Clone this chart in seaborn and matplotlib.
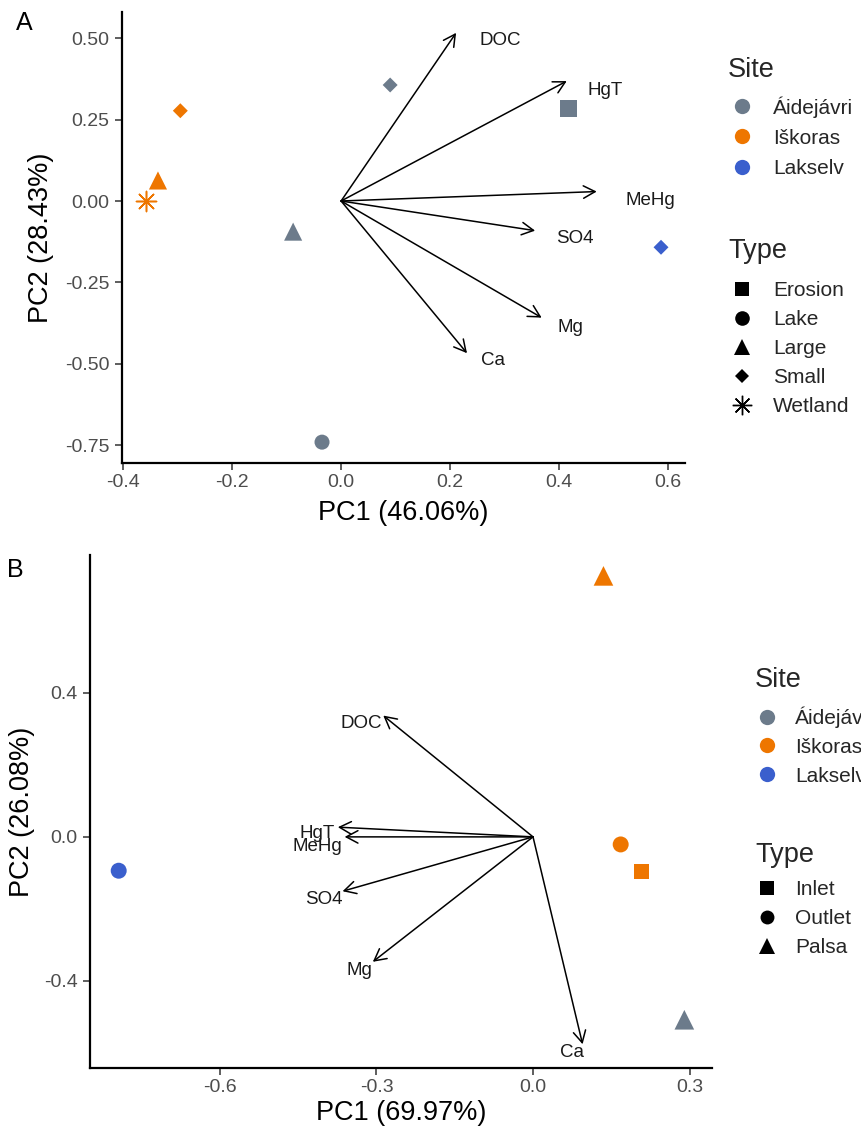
import matplotlib
matplotlib.use("Agg")
import matplotlib.pyplot as plt
from matplotlib.lines import Line2D
import pandas as pd
import seaborn as sns

sns.set_theme(style="ticks")
plt.rcParams["font.family"] = ["Liberation Sans", "DejaVu Sans"]

# ---------------- Panel A: PCA of stream samples ----------------
a_site = ["Áidejávri", "Áidejávri", "Áidejávri", "Áidejávri",
          "Iškoras", "Iškoras", "Iškoras", "Lakselv"]
a_type = ["Small", "Erosion", "Large", "Lake", "Small", "Large", "Wetland", "Small"]
a_pc1 = [0.090, 0.417, -0.088, -0.035, -0.295, -0.336, -0.358, 0.587]
a_pc2 = [0.356, 0.284, -0.094, -0.740, 0.277, 0.063, 0.000, -0.142]

variables = ["DOC", "HgT", "MeHg", "SO4", "Mg", "Ca"]
a_load1 = [0.211, 0.414, 0.469, 0.356, 0.368, 0.231]
a_load2 = [0.516, 0.368, 0.029, -0.091, -0.358, -0.467]
a_lab1 = [0.292, 0.484, 0.567, 0.429, 0.420, 0.278]
a_lab2 = [0.492, 0.340, 0.003, -0.115, -0.388, -0.490]

# ---------------- Panel B: PCA of lake/palsa samples ----------------
b_site = ["Lakselv", "Iškoras", "Iškoras", "Iškoras", "Áidejávri"]
b_type = ["Outlet", "Palsa", "Outlet", "Inlet", "Palsa"]
b_pc1 = [-0.794, 0.135, 0.168, 0.208, 0.290]
b_pc2 = [-0.094, 0.725, -0.021, -0.097, -0.508]

b_load1 = [-0.287, -0.374, -0.361, -0.365, -0.307, 0.095]
b_load2 = [0.337, 0.027, 0.000, -0.151, -0.347, -0.576]
b_lab1 = [-0.330, -0.413, -0.413, -0.400, -0.333, 0.074]
b_lab2 = [0.315, 0.008, -0.028, -0.175, -0.372, -0.600]

sites = ["Áidejávri", "Iškoras", "Lakselv"]
site_colors = {"Áidejávri": "#6C7B8B", "Iškoras": "#EE7600", "Lakselv": "#3A5FCD"}

a_types = ["Erosion", "Lake", "Large", "Small", "Wetland"]
a_markers = {"Erosion": "s", "Lake": "o", "Large": "^", "Small": "D"}
a_sizes = {"Erosion": 140, "Lake": 117, "Large": 170, "Small": 58}
asterisk = (8, 2, 0)

b_types = ["Inlet", "Outlet", "Palsa"]
b_markers = {"Inlet": "s", "Outlet": "o", "Palsa": "^"}
b_sizes = {"Inlet": 117, "Outlet": 132, "Palsa": 200}

df_a = pd.DataFrame({"Site": a_site, "Type": a_type, "PC1": a_pc1, "PC2": a_pc2})
df_b = pd.DataFrame({"Site": b_site, "Type": b_type, "PC1": b_pc1, "PC2": b_pc2})

W, H = 861, 1133
fig = plt.figure(figsize=(W / 100, H / 100), dpi=100)
ax_a = fig.add_axes([122 / W, 1 - 463 / H, 563 / W, 451 / H])
ax_b = fig.add_axes([90 / W, 1 - 1068 / H, 622 / W, 513 / H])

TICK_FS = 14
ARROW_FS = 13.5
TITLE_FS = 19.5
LEG_FS = 15
LEGT_FS = 19.5


def draw_arrows(ax, l1, l2, lx, ly):
    for name, x, y, tx, ty in zip(variables, l1, l2, lx, ly):
        ax.annotate("", xy=(x, y), xytext=(0, 0),
                    arrowprops=dict(arrowstyle="->,head_length=0.6,head_width=0.32",
                                    lw=1.1, color="black", shrinkA=0, shrinkB=0,
                                    mutation_scale=14))
        ax.text(tx, ty, name, ha="center", va="center", fontsize=ARROW_FS,
                color="#1a1a1a")


def style_axes(ax):
    sns.despine(ax=ax)
    for side in ("left", "bottom"):
        ax.spines[side].set_linewidth(1.6)
        ax.spines[side].set_color("black")
    ax.tick_params(axis="both", length=5, width=1.1, color="#333333",
                   labelsize=TICK_FS, labelcolor="#4D4D4D")
    ax.tick_params(axis="x", pad=3)
    ax.tick_params(axis="y", pad=4)


# ----- Panel A -----
filled_a = df_a[df_a["Type"] != "Wetland"]
sns.scatterplot(data=filled_a, x="PC1", y="PC2", hue="Site", style="Type",
                size="Type", sizes=a_sizes, markers=a_markers, palette=site_colors,
                linewidth=0, legend=False, ax=ax_a, zorder=3)
sns.scatterplot(data=df_a[df_a["Type"] == "Wetland"], x="PC1", y="PC2", hue="Site",
                palette=site_colors, marker=asterisk, s=210, linewidth=1.1,
                legend=False, ax=ax_a, zorder=3)
draw_arrows(ax_a, a_load1, a_load2, a_lab1, a_lab2)
ax_a.set_xlim(-0.402, 0.631)
ax_a.set_ylim(-0.804, 0.58)
ax_a.set_xticks([-0.4, -0.2, 0.0, 0.2, 0.4, 0.6])
ax_a.set_xticklabels(["-0.4", "-0.2", "0.0", "0.2", "0.4", "0.6"])
ax_a.set_yticks([-0.75, -0.50, -0.25, 0.0, 0.25, 0.50])
ax_a.set_yticklabels(["-0.75", "-0.50", "-0.25", "0.00", "0.25", "0.50"])
style_axes(ax_a)
ax_a.set_xlabel("PC1 (46.06%)", fontsize=TITLE_FS, color="black")
ax_a.set_ylabel("PC2 (28.43%)", fontsize=TITLE_FS, color="black")
ax_a.xaxis.set_label_coords(0.5, -0.111)
ax_a.xaxis.label.set_verticalalignment("center")
ax_a.yaxis.set_label_coords(-0.144, 0.5)
ax_a.yaxis.label.set_verticalalignment("center")

# ----- Panel B -----
sns.scatterplot(data=df_b, x="PC1", y="PC2", hue="Site", style="Type",
                size="Type", sizes=b_sizes, markers=b_markers, palette=site_colors,
                linewidth=0, legend=False, ax=ax_b, zorder=3)
draw_arrows(ax_b, b_load1, b_load2, b_lab1, b_lab2)
ax_b.set_xlim(-0.849, 0.343)
ax_b.set_ylim(-0.642, 0.783)
ax_b.set_xticks([-0.6, -0.3, 0.0, 0.3])
ax_b.set_xticklabels(["-0.6", "-0.3", "0.0", "0.3"])
ax_b.set_yticks([-0.4, 0.0, 0.4])
ax_b.set_yticklabels(["-0.4", "0.0", "0.4"])
style_axes(ax_b)
ax_b.set_xlabel("PC1 (69.97%)", fontsize=TITLE_FS, color="black")
ax_b.set_ylabel("PC2 (26.08%)", fontsize=TITLE_FS, color="black")
ax_b.xaxis.set_label_coords(0.5, -0.088)
ax_b.xaxis.label.set_verticalalignment("center")
ax_b.yaxis.set_label_coords(-0.109, 0.5)
ax_b.yaxis.label.set_verticalalignment("center")

# ----- Panel tags -----
fig.text(16 / W, 1 - 30.5 / H, "A", fontsize=18, color="black", va="baseline")
fig.text(7 / W, 1 - 577 / H, "B", fontsize=18, color="black", va="baseline")


# ----- Legends -----
def site_handles():
    return [Line2D([0], [0], marker="o", linestyle="", color=site_colors[s],
                   markersize=11, markeredgewidth=0) for s in sites]


type_marker_a = {"Erosion": ("s", 10), "Lake": ("o", 10.5), "Large": ("^", 12),
                 "Small": ("D", 7), "Wetland": (asterisk, 14)}
type_marker_b = {"Inlet": ("s", 9.5), "Outlet": ("o", 10), "Palsa": ("^", 12)}


def type_handles(types, spec):
    hs = []
    for t in types:
        m, ms = spec[t]
        if m == asterisk:
            hs.append(Line2D([0], [0], marker=m, linestyle="", color="black",
                             markersize=ms, markeredgewidth=1.0))
        else:
            hs.append(Line2D([0], [0], marker=m, linestyle="", color="black",
                             markersize=ms, markeredgewidth=0))
    return hs


def add_legend(handles, labels, x_marker, x_text, y_center, spacing):
    fs_px = LEG_FS * 100 / 72
    hl = 1.2
    x0 = x_marker - hl * fs_px / 2
    pad = (x_text - (x0 + hl * fs_px)) / fs_px
    leg = fig.legend(handles, labels, loc="center left",
                     bbox_to_anchor=(x0 / W, 1 - y_center / H),
                     frameon=False, fontsize=LEG_FS, handlelength=hl,
                     handletextpad=pad, borderpad=0, borderaxespad=0,
                     labelspacing=spacing)
    return leg


fig.text(728 / W, 1 - 76.7 / H, "Site", fontsize=LEGT_FS, va="baseline")
add_legend(site_handles(), sites, 742, 773, 137, 0.54)
fig.text(728 / W, 1 - 258 / H, "Type", fontsize=LEGT_FS, va="baseline")
add_legend(type_handles(a_types, type_marker_a), a_types, 742, 773, 348.5, 0.48)

fig.text(755 / W, 1 - 687 / H, "Site", fontsize=LEGT_FS, va="baseline")
add_legend(site_handles(), sites, 767, 795, 746, 0.47)
fig.text(755 / W, 1 - 862 / H, "Type", fontsize=LEGT_FS, va="baseline")
add_legend(type_handles(b_types, type_marker_b), b_types, 767, 795, 918.5, 0.49)

fig.savefig("out.png", dpi=100)
